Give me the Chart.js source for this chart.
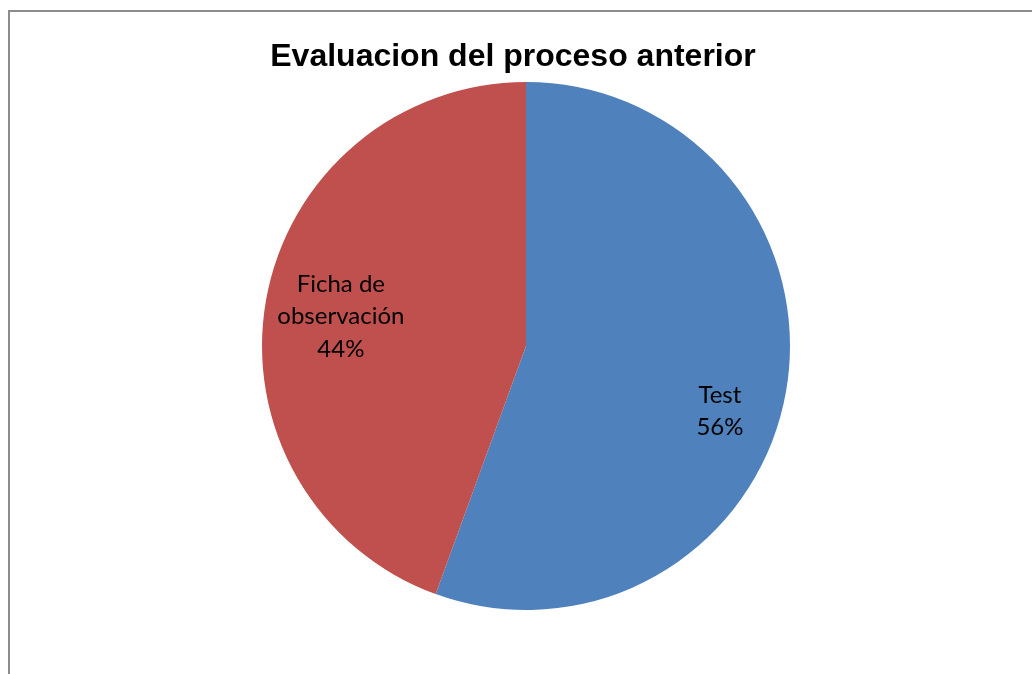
<!DOCTYPE html>
<html>
<head>
<meta charset="utf-8">
<script src="https://cdn.jsdelivr.net/npm/chart.js@4/dist/chart.umd.min.js"></script>
<style>
  html, body { margin: 0; padding: 0; background: #fff; }
  #wrap { position: relative; width: 1032px; height: 674px; overflow: hidden; }
  #frame { position: absolute; left: 8px; top: 10px; width: 1100px; height: 700px;
           border-left: 2px solid #8c8c8c; border-top: 2px solid #8c8c8c; box-sizing: border-box; }
  canvas { position: absolute; left: 0; top: 0; }
</style>
</head>
<body>
<div id="wrap">
  <div id="frame"></div>
  <canvas id="c" width="1032" height="674"></canvas>
</div>
<script>
const titleText = "Evaluacion del proceso anterior";
const categories = ["Test", "Ficha de observación"];
const labelLines = [["Test"], ["Ficha de", "observación"]];
const values = [5, 4];
const colors = ["#4F81BD", "#C0504D"];
// label placement: fraction of radius and angle shift (degrees) from mid-angle
const labelRadius = [0.775, 0.71];
const labelAngleShift = [8.6, -1];

const labelPlugin = {
  id: 'sliceLabels',
  afterDatasetsDraw(chart) {
    const ctx = chart.ctx;
    const meta = chart.getDatasetMeta(0);
    const total = values.reduce((a, b) => a + b, 0);
    ctx.save();
    ctx.font = '24px "Lato", "Open Sans", sans-serif';
    ctx.fillStyle = '#000';
    ctx.textAlign = 'center';
    ctx.textBaseline = 'middle';
    meta.data.forEach((arc, i) => {
      const p = arc.getProps(['x', 'y', 'startAngle', 'endAngle', 'outerRadius'], true);
      const mid = (p.startAngle + p.endAngle) / 2 + labelAngleShift[i] * Math.PI / 180;
      const r = p.outerRadius * labelRadius[i];
      const cx = p.x + Math.cos(mid) * r;
      const cy = p.y + Math.sin(mid) * r;
      const pct = Math.round(values[i] / total * 100) + '%';
      const lines = labelLines[i].concat([pct]);
      const lh = 32.5;
      const y0 = cy - (lines.length - 1) * lh / 2;
      lines.forEach((t, k) => ctx.fillText(t, cx, y0 + k * lh));
    });
    ctx.restore();
  }
};

const titlePlugin = {
  id: 'topTitle',
  afterDraw(chart) {
    const ctx = chart.ctx;
    ctx.save();
    ctx.font = 'bold 32px "Liberation Sans", Arial, sans-serif';
    ctx.fillStyle = '#000';
    ctx.textAlign = 'center';
    ctx.textBaseline = 'middle';
    ctx.fillText(titleText, 513, 57);
    ctx.restore();
  }
};

new Chart(document.getElementById('c'), {
  type: 'pie',
  data: {
    labels: categories,
    datasets: [{
      data: values,
      backgroundColor: colors,
      borderWidth: 0
    }]
  },
  options: {
    responsive: false,
    animation: false,
    layout: { padding: { top: 82, bottom: 64, left: 262, right: 242 } },
    plugins: {
      legend: { display: false },
      tooltip: { enabled: false },
      title: { display: false }
    }
  },
  plugins: [labelPlugin, titlePlugin]
});
</script>
</body>
</html>
